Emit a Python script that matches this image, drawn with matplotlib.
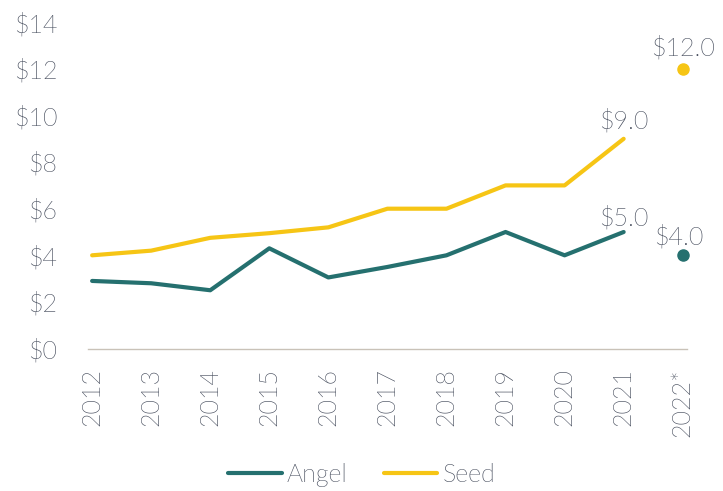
import matplotlib
matplotlib.use("Agg")
import matplotlib.pyplot as plt
from matplotlib import font_manager

years = ["2012", "2013", "2014", "2015", "2016", "2017", "2018", "2019", "2020", "2021", "2022*"]
angel = [2.9, 2.8, 2.5, 4.3, 3.05, 3.5, 4.0, 5.0, 4.0, 5.0]
seed = [4.0, 4.2, 4.75, 4.95, 5.2, 6.0, 6.0, 7.0, 7.0, 9.0]
angel_2022 = 4.0
seed_2022 = 12.0

TEAL = "#25706f"
GOLD = "#f6c515"
TEXT = "#434a5a"

# look for the Lato Light file, fall back to regular Lato
light = [f.fname for f in font_manager.fontManager.ttflist
         if f.name == "Lato" and "light" in f.fname.lower() and "italic" not in f.fname.lower()]
if light:
    fp = font_manager.FontProperties(fname=light[0], size=18)
else:
    fp = font_manager.FontProperties(family="Lato", size=18)

plt.rcParams["font.family"] = ["Lato", "DejaVu Sans"]

fig = plt.figure(figsize=(7.23, 4.91), dpi=100)
ax = fig.add_axes([0.1217, 0.2902, 0.8283, 0.6644])

x = list(range(len(angel)))
ax.plot(x, angel, color=TEAL, lw=3, solid_capstyle="round", label="Angel")
ax.plot(x, seed, color=GOLD, lw=3, solid_capstyle="round", label="Seed")
ax.plot([10], [angel_2022], "o", color=TEAL, ms=8, clip_on=False)
ax.plot([10], [seed_2022], "o", color=GOLD, ms=8, clip_on=False)

lbl = dict(ha="center", va="bottom", fontproperties=fp, color=TEXT)
for xi, yi, dx, dy in [(9, seed[-1], 0, 4), (9, angel[-1], 0, 1),
                       (10, seed_2022, 0, 6), (10, angel_2022, -3, 4)]:
    ax.annotate(f"${yi:.1f}", (xi, yi), xytext=(dx, dy), textcoords="offset points", **lbl)

ax.set_xlim(-0.07, 10.07)
ax.set_ylim(0, 14)
ax.set_yticks(range(0, 15, 2))
ax.set_yticklabels([f"${v}" for v in range(0, 15, 2)])
ax.set_xticks(range(len(years)))
ax.set_xticklabels(years, rotation=90)
ax.tick_params(length=0, labelcolor=TEXT, pad=14)
ax.tick_params(axis="y", pad=22)
for t in ax.get_xticklabels() + ax.get_yticklabels():
    t.set_fontproperties(fp)
for s in ["top", "right", "left"]:
    ax.spines[s].set_visible(False)
ax.spines["bottom"].set_color("#c9c2b8")
ax.spines["bottom"].set_linewidth(1)

leg = fig.legend(handles=ax.get_lines()[:2], loc="center", bbox_to_anchor=(0.5, 0.033),
                 ncol=2, frameon=False, prop=fp, handlelength=2.15,
                 handletextpad=0.2, columnspacing=1.45)
for t in leg.get_texts():
    t.set_color(TEXT)

fig.savefig("out.png", dpi=100)
